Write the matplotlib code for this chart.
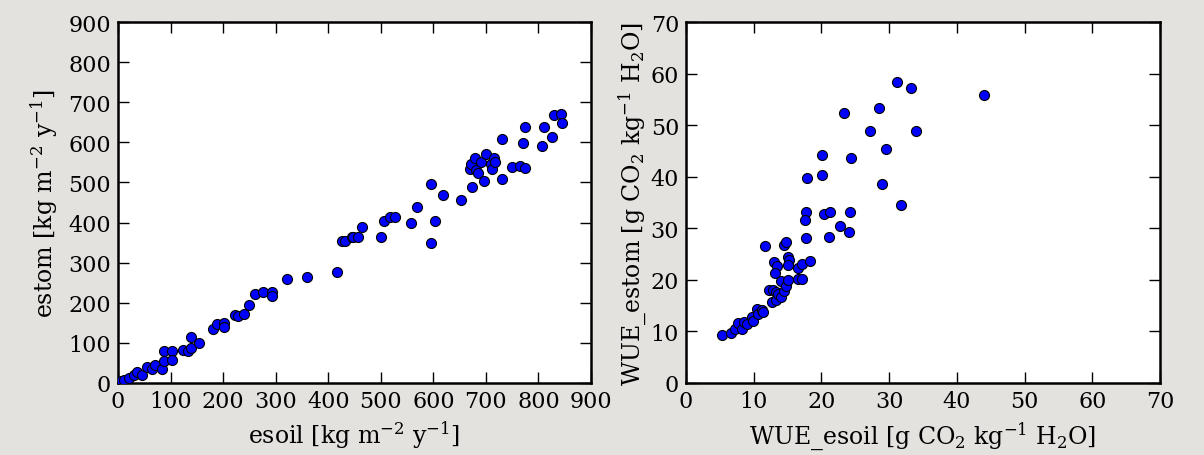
import matplotlib
matplotlib.use("Agg")
import matplotlib.pyplot as plt
import numpy as np

# 左パネル: esoil vs estom
esoil = [5, 11, 21, 30, 37, 46, 56, 65, 71, 83, 87, 87, 103, 103, 124, 133, 138, 139, 155,
         180, 188, 202, 202, 223, 228, 239, 249, 260, 275, 293, 293, 321, 359, 417,
         426, 432, 445, 448, 456, 464, 500, 506, 518, 527, 557, 569, 595, 596, 604, 618,
         652, 669, 672, 674, 679, 681, 685, 690, 696, 700, 709, 712, 715, 718, 731, 731,
         750, 764, 770, 774, 774, 807, 810, 826, 829, 842, 844]
estom = [4, 8, 12, 19, 27, 21, 40, 36, 44, 36, 81, 56, 79, 58, 83, 81, 87, 114, 100,
         135, 148, 150, 139, 170, 166, 173, 195, 221, 228, 228, 217, 260, 265, 276,
         353, 355, 363, 365, 365, 388, 365, 405, 413, 415, 400, 438, 496, 348, 405, 469,
         457, 533, 547, 488, 560, 531, 523, 552, 503, 572, 547, 533, 560, 550, 608, 508,
         539, 542, 598, 537, 637, 591, 637, 614, 668, 670, 647]

# 右パネル: WUE
wue_esoil = [5.37, 6.65, 7.24, 7.73, 8.2, 8.57, 8.96, 9.7, 9.85, 10.5, 10.7, 11.2, 11.4,
             11.67, 12.3, 12.65, 12.9, 13.3, 13.3, 13.0, 13.4, 13.2, 13.6, 14.0, 14.0,
             14.5, 14.5, 14.8, 14.8, 15.0, 15.2, 15.1, 15.1, 16.6, 16.6, 17.2, 17.2,
             17.7, 17.6, 17.7, 17.8, 18.3, 20.1, 20.1, 20.4, 21.2, 21.1, 22.7, 23.3,
             24.2, 24.1, 24.4, 27.2, 28.5, 28.9, 29.6, 31.2, 31.7, 33.2, 34.0, 44.0]
wue_estom = [9.35, 9.68, 10.5, 11.6, 10.5, 11.8, 11.5, 12.8, 12.1, 14.4, 13.4, 14.1, 13.7,
             26.5, 18.1, 15.7, 18.1, 17.7, 16.0, 23.5, 22.6, 21.4, 17.3, 16.6, 19.7,
             17.9, 26.8, 27.3, 18.9, 24.5, 23.9, 22.9, 20.0, 22.3, 20.1, 20.2, 23.0,
             33.1, 31.7, 28.1, 39.8, 23.6, 44.3, 40.3, 32.8, 33.1, 28.3, 30.4, 52.3,
             33.1, 29.2, 43.7, 48.8, 53.4, 38.6, 45.4, 58.3, 34.6, 57.2, 48.8, 55.9]

plt.rcParams["font.family"] = "DejaVu Serif"
plt.rcParams["mathtext.fontset"] = "dejavuserif"
plt.rcParams["font.size"] = 16

fig = plt.figure(figsize=(12.04, 4.56), dpi=100, facecolor="#e4e2de")
ax1 = fig.add_axes([118/1204, 1-384/456, 473/1204, 361/456])
ax2 = fig.add_axes([686/1204, 1-384/456, 474/1204, 361/456])

ax1.scatter(esoil, estom, s=52, c="blue", edgecolors="black", linewidths=0.8, zorder=3)
ax1.set_xlim(0, 900)
ax1.set_ylim(0, 900)
ax1.set_xticks(np.arange(0, 1000, 100))
ax1.set_yticks(np.arange(0, 1000, 100))
ax1.set_xlabel("esoil [kg m$^{-2}$ y$^{-1}$]", fontsize=17, labelpad=5)
ax1.set_ylabel("estom [kg m$^{-2}$ y$^{-1}$]", fontsize=17, labelpad=6)

ax2.scatter(wue_esoil, wue_estom, s=52, c="blue", edgecolors="black", linewidths=0.8, zorder=3)
ax2.set_xlim(0, 70)
ax2.set_ylim(0, 70)
ax2.set_xticks(np.arange(0, 80, 10))
ax2.set_yticks(np.arange(0, 80, 10))
ax2.set_xlabel("WUE_esoil [g CO$_2$ kg$^{-1}$ H$_2$O]", fontsize=17, labelpad=5)
ax2.set_ylabel("WUE_estom [g CO$_2$ kg$^{-1}$ H$_2$O]", fontsize=17, labelpad=2)

for ax in (ax1, ax2):
    ax.tick_params(direction="in", top=True, right=True, length=8, width=1,
                   labelsize=16, pad=5)
    for sp in ax.spines.values():
        sp.set_linewidth(1.8)

fig.savefig("out.png", dpi=100, facecolor=fig.get_facecolor())
